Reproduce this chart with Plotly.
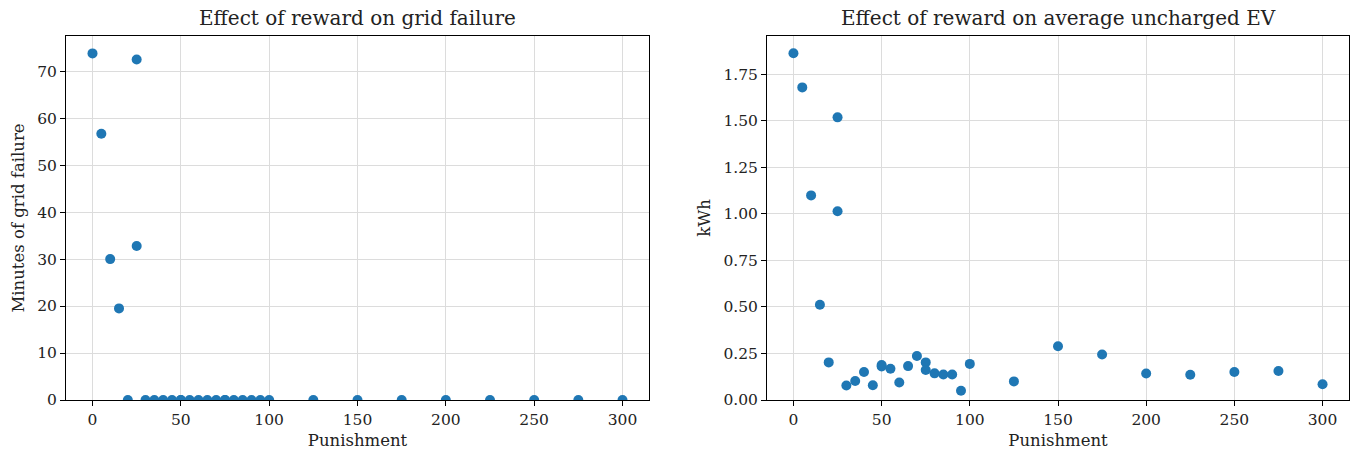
import plotly.graph_objects as go

punishment = [0, 5, 10, 15, 20, 25, 25, 30, 35, 40, 45, 50, 50, 55, 60, 65, 70, 75, 75,
              80, 85, 90, 95, 100, 125, 150, 175, 200, 225, 250, 275, 300]
grid_failure_minutes = [73.8, 56.7, 30.0, 19.5, 0, 72.5, 32.8, 0, 0, 0, 0, 0, 0, 0, 0, 0, 0, 0, 0,
                        0, 0, 0, 0, 0, 0, 0, 0, 0, 0, 0, 0, 0]
uncharged_kwh = [1.862, 1.679, 1.099, 0.512, 0.202, 1.518, 1.014, 0.078, 0.102, 0.150, 0.079,
                 0.188, 0.180, 0.168, 0.094, 0.182, 0.236, 0.202, 0.161,
                 0.143, 0.137, 0.137, 0.050, 0.194, 0.100, 0.289, 0.244, 0.142, 0.136,
                 0.150, 0.156, 0.085]

x_ticks = [0, 50, 100, 150, 200, 250, 300]
left_y_ticks = [0, 10, 20, 30, 40, 50, 60, 70]
right_y_ticks = [0.0, 0.25, 0.5, 0.75, 1.0, 1.25, 1.5, 1.75]

FONT = "DejaVu Serif"
BLUE = "#1f77b4"
TICK_SIZE = 15.5
LABEL_SIZE = 16.5
TITLE_SIZE = 20

fig = go.Figure()
fig.add_trace(go.Scatter(x=punishment, y=grid_failure_minutes, mode="markers",
                         marker=dict(color=BLUE, size=10, line=dict(width=0)),
                         xaxis="x", yaxis="y", showlegend=False))
fig.add_trace(go.Scatter(x=punishment, y=uncharged_kwh, mode="markers",
                         marker=dict(color=BLUE, size=10, line=dict(width=0)),
                         xaxis="x2", yaxis="y2", showlegend=False))

axis_common = dict(showline=True, linecolor="black", linewidth=1, mirror=True,
                   ticks="outside", ticklen=5, tickwidth=1, tickcolor="black",
                   showgrid=True, gridcolor="#dcdcdc", gridwidth=1, zeroline=False,
                   tickfont=dict(family=FONT, size=TICK_SIZE, color="#222"))

d1 = (0.0, 583 / 1283)
d2 = (701 / 1283, 1.0)

fig.update_layout(
    width=1357, height=455,
    margin=dict(l=66, r=8, t=36, b=55),
    plot_bgcolor="white", paper_bgcolor="white",
    font=dict(family=FONT, color="#222"),
    xaxis=dict(domain=d1, range=[-15, 315], tickvals=x_ticks, anchor="y",
               title=dict(text="Punishment", font=dict(family=FONT, size=LABEL_SIZE), standoff=6),
               **axis_common),
    yaxis=dict(domain=[0, 1], range=[0, 77.5], tickvals=left_y_ticks, anchor="x",
               title=dict(text="Minutes of grid failure", font=dict(family=FONT, size=LABEL_SIZE), standoff=8),
               **axis_common),
    xaxis2=dict(domain=d2, range=[-15, 315], tickvals=x_ticks, anchor="y2",
                title=dict(text="Punishment", font=dict(family=FONT, size=LABEL_SIZE), standoff=6),
                **axis_common),
    yaxis2=dict(domain=[0, 1], range=[0, 1.955], tickvals=right_y_ticks,
                ticktext=[f"{v:.2f}" for v in right_y_ticks], anchor="x2",
                title=dict(text="kWh", font=dict(family=FONT, size=LABEL_SIZE), standoff=8),
                **axis_common),
    annotations=[
        dict(text="Effect of reward on grid failure", x=(d1[0] + d1[1]) / 2, y=1,
             xref="paper", yref="paper", xanchor="center", yanchor="bottom",
             showarrow=False, yshift=4, font=dict(family=FONT, size=TITLE_SIZE, color="#222")),
        dict(text="Effect of reward on average uncharged EV", x=(d2[0] + d2[1]) / 2, y=1,
             xref="paper", yref="paper", xanchor="center", yanchor="bottom",
             showarrow=False, yshift=4, font=dict(family=FONT, size=TITLE_SIZE, color="#222")),
    ],
)

fig.write_html("out.html")
